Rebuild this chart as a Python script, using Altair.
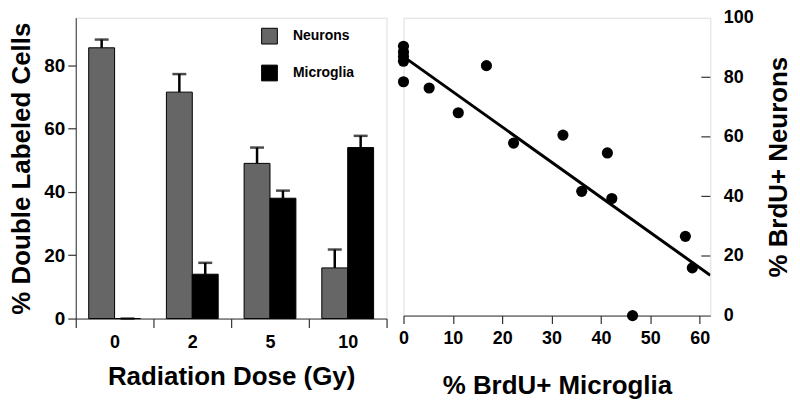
import altair as alt
import pandas as pd

# ---- Left panel data: % double labeled cells by radiation dose
doses = ["0", "2", "5", "10"]
series = ["Neurons", "Microglia"]
neuron_mean = [85.5, 71.5, 49.0, 16.0]
neuron_sem = [2.6, 5.7, 5.0, 5.8]
microglia_mean = [0.0, 14.0, 38.0, 54.0]
microglia_sem = [0.0, 3.6, 2.4, 3.7]

# ---- Right panel data: % BrdU+ microglia vs % BrdU+ neurons
brdu_microglia = [0, 0, 0, 0, 0, 5.2, 11.1, 16.8, 22.3, 32.3, 36.1, 41.3, 42.2, 46.4, 57.1, 58.5]
brdu_neurons = [90.4, 88.5, 87.0, 85.4, 78.5, 76.4, 68.1, 83.9, 57.9, 60.6, 41.7, 54.6, 39.3, 0.0, 26.6, 16.0]
right_y_ticks = [20, 40, 60, 80]

FONT = "Liberation Sans"
LINE = "#333333"

rows = []
for i, d in enumerate(doses):
    rows.append({"dose": d, "series": "Neurons", "mean": neuron_mean[i],
                 "top": neuron_mean[i] + neuron_sem[i]})
    rows.append({"dose": d, "series": "Microglia", "mean": microglia_mean[i],
                 "top": microglia_mean[i] + microglia_sem[i]})
bars_df = pd.DataFrame(rows)

LW, LH = 312, 302
RW, RH = 308, 299

xenc = alt.X("dose:N", sort=doses,
             scale=alt.Scale(paddingInner=0, paddingOuter=0),
             axis=alt.Axis(title="Radiation Dose (Gy)", labelAngle=0, tickBand="extent",
                           tickSize=9, tickColor=LINE, tickWidth=1.2, domainColor=LINE,
                           labelFontSize=18, labelFont=FONT, labelFontWeight="bold",
                           labelColor="black", labelPadding=6,
                           titleFontSize=26, titleFont=FONT, titleFontWeight="bold",
                           titleColor="black", titlePadding=12))
xoff = alt.XOffset("series:N", sort=series,
                   scale=alt.Scale(paddingInner=0, paddingOuter=0.5))

base = alt.Chart(bars_df)

bars = base.mark_bar(stroke="black", strokeWidth=1).encode(
    x=xenc,
    xOffset=xoff,
    y=alt.Y("mean:Q", scale=alt.Scale(domain=[0, 95], nice=False),
            axis=alt.Axis(title="% Double Labeled Cells", values=[0, 20, 40, 60, 80],
                          grid=False, tickSize=8, tickColor=LINE, tickWidth=1.2,
                          domainColor=LINE,
                          labelFontSize=19, labelFont=FONT, labelFontWeight="bold",
                          labelColor="black", labelPadding=3,
                          titleFontSize=26, titleFont=FONT, titleFontWeight="bold",
                          titleColor="black", titlePadding=9)),
    fill=alt.Fill("series:N", sort=series,
                  scale=alt.Scale(domain=series, range=["#666666", "#000000"]),
                  legend=alt.Legend(title=None, orient="none", legendX=186, legendY=10,
                                    symbolType="square", symbolSize=250,
                                    symbolStrokeColor="black", symbolStrokeWidth=1,
                                    labelFontSize=14, labelFont=FONT, labelFontWeight="bold",
                                    labelColor="black", labelOffset=15, rowPadding=16,
                                    padding=0)),
)

err = base.mark_rule(color="black", strokeWidth=2.5).encode(
    x=alt.X("dose:N", sort=doses), xOffset=xoff,
    y="mean:Q", y2="top:Q",
)

caps = base.mark_tick(color="black", orient="horizontal", size=14, thickness=2.5).encode(
    x=alt.X("dose:N", sort=doses), xOffset=xoff,
    y="top:Q",
)

left = alt.layer(bars, err, caps).properties(width=LW, height=LH)

# ---- right panel
pts_df = pd.DataFrame({"microglia": brdu_microglia, "neurons": brdu_neurons})
XMAX = 62.15

rx = alt.X("microglia:Q", scale=alt.Scale(domain=[0, XMAX], nice=False),
           axis=alt.Axis(title="% BrdU+ Microglia", values=[0, 10, 20, 30, 40, 50, 60],
                         grid=False, tickSize=8, tickColor=LINE, tickWidth=1.2,
                         domainColor=LINE,
                         labelFontSize=18, labelFont=FONT, labelFontWeight="bold",
                         labelColor="black", labelPadding=6, labelFlush=False,
                         titleFontSize=26, titleFont=FONT, titleFontWeight="bold",
                         titleColor="black", titlePadding=25))
ry = alt.Y("neurons:Q", scale=alt.Scale(domain=[0, 100], nice=False),
           axis=alt.Axis(orient="right", title="% BrdU+ Neurons",
                         values=[0, 20, 40, 60, 80, 100], grid=False, ticks=False,
                         domain=False, labelFlush=False,
                         labelFontSize=18, labelFont=FONT, labelFontWeight="bold",
                         labelColor="black", labelPadding=13,
                         titleFontSize=26, titleFont=FONT, titleFontWeight="bold",
                         titleColor="black", titleAngle=270, titleBaseline="top",
                         titlePadding=12))

pbase = alt.Chart(pts_df)
points = pbase.mark_circle(color="black", size=125, opacity=1).encode(x=rx, y=ry)
fit = pbase.transform_regression("microglia", "neurons", extent=[0, XMAX]).mark_line(
    color="black", strokeWidth=3, clip=True).encode(x="microglia:Q", y="neurons:Q")

tick_df = pd.DataFrame({"t": right_y_ticks})
inner_ticks = alt.Chart(tick_df).mark_rule(color=LINE, strokeWidth=1.2).encode(
    y="t:Q", x=alt.value(RW - 9), x2=alt.value(RW))

right = alt.layer(points, fit, inner_ticks).properties(width=RW, height=RH)

chart = alt.hconcat(left, right, spacing=17, bounds="flush").properties(
    padding={"left": 0, "top": -1, "right": 0, "bottom": 0}
).configure_view(stroke=LINE, strokeWidth=1.2).configure(font=FONT)

chart.save("out.html", embed_options={"renderer": "svg", "actions": False})
